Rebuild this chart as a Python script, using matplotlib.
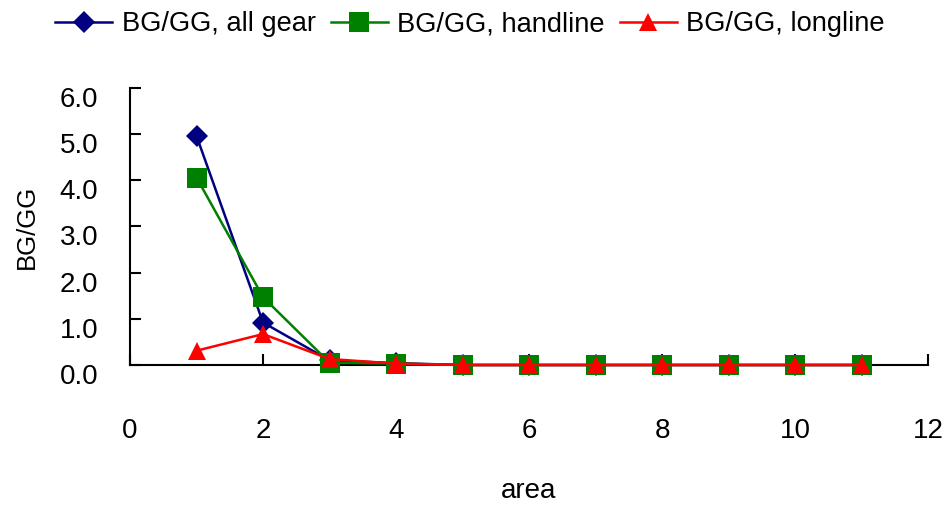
import matplotlib
matplotlib.use("Agg")
import matplotlib.pyplot as plt
import matplotlib.transforms as mtransforms
from matplotlib.lines import Line2D

area = [1, 2, 3, 4, 5, 6, 7, 8, 9, 10, 11]
all_gear = [4.96, 0.92, 0.10, 0.04, 0.0, 0.0, 0.0, 0.0, 0.0, 0.0, 0.0]
handline = [4.06, 1.47, 0.05, 0.03, 0.0, 0.0, 0.0, 0.0, 0.0, 0.0, 0.0]
longline = [0.31, 0.67, 0.13, 0.03, 0.0, 0.0, 0.0, 0.0, 0.0, 0.0, 0.0]
series_labels = ["BG/GG, all gear", "BG/GG, handline", "BG/GG, longline"]
y_ticks = [0, 1, 2, 3, 4, 5, 6]
x_ticks = [0, 2, 4, 6, 8, 10, 12]

plt.rcParams["font.family"] = ["Liberation Sans", "DejaVu Sans"]

fig = plt.figure(figsize=(9.47, 5.08), dpi=100)
ax = fig.add_axes([0.1373, 0.2815, 0.8427, 0.5453])

styles = [
    dict(color="#000080", marker="D", markersize=11.5),
    dict(color="#008000", marker="s", markersize=15),
    dict(color="#FF0000", marker="^", markersize=12.5),
]
for ys, st in zip([all_gear, handline, longline], styles):
    ax.plot(area, ys, lw=1.8, color=st["color"], marker=st["marker"],
            markersize=st["markersize"], markeredgewidth=0,
            markerfacecolor=st["color"], clip_on=False, zorder=3)

ax.set_xlim(0, 12)
ax.set_ylim(0, 6)
ax.set_xticks(x_ticks)
ax.set_yticks(y_ticks)
ax.set_yticklabels([f"{v:.1f}" for v in y_ticks])

for side in ("top", "right"):
    ax.spines[side].set_visible(False)
for side in ("left", "bottom"):
    ax.spines[side].set_linewidth(1.5)
    ax.spines[side].set_color("black")

ax.tick_params(axis="y", direction="in", length=8, width=1.5, pad=23,
               labelsize=20)
ax.tick_params(axis="x", direction="in", length=8, width=1.5, pad=38,
               labelsize=20)

# value labels sit a little below their tick marks
shift = mtransforms.ScaledTranslation(0, -9 / 100, fig.dpi_scale_trans)
for lab in ax.get_yticklabels():
    lab.set_transform(lab.get_transform() + shift)

ax.set_xlabel("area", fontsize=20, labelpad=25)
ax.set_ylabel("BG/GG", fontsize=18.5, labelpad=15)

handles = [Line2D([], [], lw=1.8, color=st["color"], marker=st["marker"],
                  markersize=st["markersize"], markeredgewidth=0)
           for st in styles]
fig.legend(handles, series_labels, loc="center left",
           bbox_to_anchor=(0.058, 0.952), ncol=3, frameon=False,
           prop=dict(size=19.6), handlelength=2.1, handletextpad=0.35,
           columnspacing=0.55, borderaxespad=0.0, borderpad=0.0)

fig.savefig("out.png", dpi=100, facecolor="white")
